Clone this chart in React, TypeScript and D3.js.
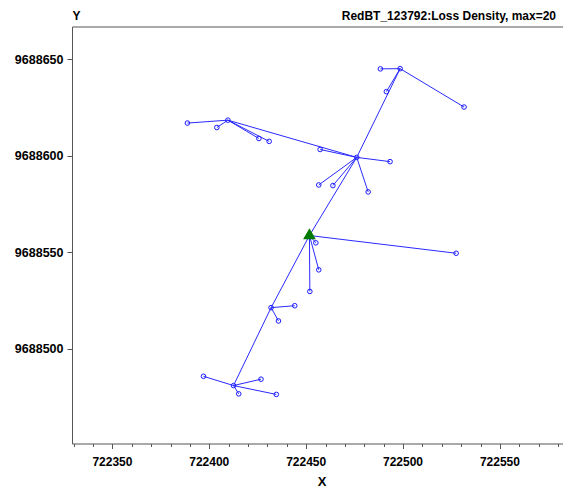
import React from "react";
import * as d3 from "d3";

// Node coordinates (index 0 = green triangle source)
const nodeX = [
  722451.7, // 0 source (triangle)
  722476.1, // 1 hub A
  722498.5, // 2 hub C (top)
  722409.6, // 3 hub B (left)
  722431.9, // 4 hub D
  722412.5, // 5 hub E (bottom)
  722527.4, // 6
  722455.0, // 7
  722456.5, // 8
  722451.9, // 9
  722493.3, // 10
  722482.0, // 11
  722463.8, // 12
  722456.5, // 13
  722457.2, // 14
  722488.3, // 15
  722491.4, // 16
  722531.5, // 17
  722388.7, // 18
  722403.9, // 19
  722425.6, // 20
  722430.9, // 21
  722444.1, // 22
  722435.7, // 23
  722397.0, // 24
  722426.7, // 25
  722415.2, // 26
  722434.6, // 27
];
const nodeY = [
  9688558.6, 9688599.1, 9688645.1, 9688618.4, 9688521.2, 9688480.8,
  9688549.4, 9688554.8, 9688540.8, 9688529.6,
  9688596.9, 9688581.2, 9688584.5, 9688584.8, 9688603.2,
  9688645.0, 9688633.2, 9688625.2,
  9688616.9, 9688614.6, 9688608.9, 9688607.4,
  9688522.2, 9688514.3,
  9688485.6, 9688484.1, 9688476.5, 9688476.2,
];
const edgeFrom = [0, 0, 4, 1, 1, 0, 0, 0, 0, 1, 1, 1, 1, 1, 2, 2, 2, 3, 3, 3, 3, 4, 4, 5, 5, 5, 5];
const edgeTo = [1, 4, 5, 2, 3, 6, 7, 8, 9, 10, 11, 12, 13, 14, 15, 16, 17, 18, 19, 20, 21, 22, 23, 24, 25, 26, 27];

const xMajorTicks = [722350, 722400, 722450, 722500, 722550];
const xMinorTicks = d3.range(722330, 722581, 10);
const yMajorTicks = [9688500, 9688550, 9688600, 9688650];

const title = "RedBT_123792:Loss Density, max=20";

export default function App() {
  const W = 563, H = 488;
  const left = 72.5, top = 27, bottom = 444;
  const x = d3.scaleLinear().domain([722329.4, 722585]).range([left, left + (722585 - 722329.4) * 1.9375]);
  const y = d3.scaleLinear().domain([9688450.5, 9688666.7]).range([bottom, top]);
  const font = "'Liberation Sans', Arial, sans-serif";
  const axisColor = "#555";
  const tri = d3.symbol().type(d3.symbolTriangle).size(70)();
  return (
    <svg width={W} height={H} style={{ position: "absolute", left: 0, top: 0, background: "#fff" }}
      fontFamily={font} fontWeight="bold">
      <rect x={0} y={0} width={W} height={H} fill="#fff" />
      {/* frame */}
      <line x1={left} x2={W} y1={top} y2={top} stroke={axisColor} strokeWidth={1} />
      <line x1={left} x2={left} y1={top} y2={bottom} stroke={axisColor} strokeWidth={1} />
      <line x1={left} x2={W} y1={bottom} y2={bottom} stroke={axisColor} strokeWidth={1} />
      {/* x ticks */}
      {xMinorTicks.map((t) => (
        <line key={"mx" + t} x1={Math.round(x(t)) + 0.5} x2={Math.round(x(t)) + 0.5} y1={bottom} y2={bottom + 3}
          stroke={axisColor} />
      ))}
      {xMajorTicks.map((t) => (
        <g key={"x" + t}>
          <line x1={Math.round(x(t)) + 0.5} x2={Math.round(x(t)) + 0.5} y1={bottom} y2={bottom + 5} stroke={axisColor} />
          <text x={x(t)} y={465.5} textAnchor="middle" fontSize={12} fill="#000">{t}</text>
        </g>
      ))}
      {yMajorTicks.map((t) => (
        <g key={"y" + t}>
          <line x1={left - 5} x2={left} y1={Math.round(y(t)) + 0.5} y2={Math.round(y(t)) + 0.5} stroke={axisColor} />
          <text x={63.5} y={y(t) + 4.5} textAnchor="end" fontSize={12.5} fill="#000">{t}</text>
        </g>
      ))}
      <text x={left} y={20} fontSize={12} fill="#000">Y</text>
      <text x={556} y={20} fontSize={12} textAnchor="end" fill="#000">{title}</text>
      <text x={322} y={486} fontSize={13} textAnchor="middle" fill="#000">X</text>
      {/* edges */}
      {edgeFrom.map((f, i) => (
        <line key={"e" + i} x1={x(nodeX[f])} y1={y(nodeY[f])} x2={x(nodeX[edgeTo[i]])} y2={y(nodeY[edgeTo[i]])}
          stroke="#2a2aff" strokeWidth={1} />
      ))}
      {/* nodes */}
      {nodeX.map((nx, i) =>
        i === 0 ? null : (
          <circle key={"n" + i} cx={x(nx)} cy={y(nodeY[i])} r={2.3} fill="none" stroke="#1a1aff" strokeWidth={1} />
        )
      )}
      <path d={tri} transform={`translate(${x(nodeX[0])},${y(nodeY[0])})`} fill="#007a00" />
    </svg>
  );
}
